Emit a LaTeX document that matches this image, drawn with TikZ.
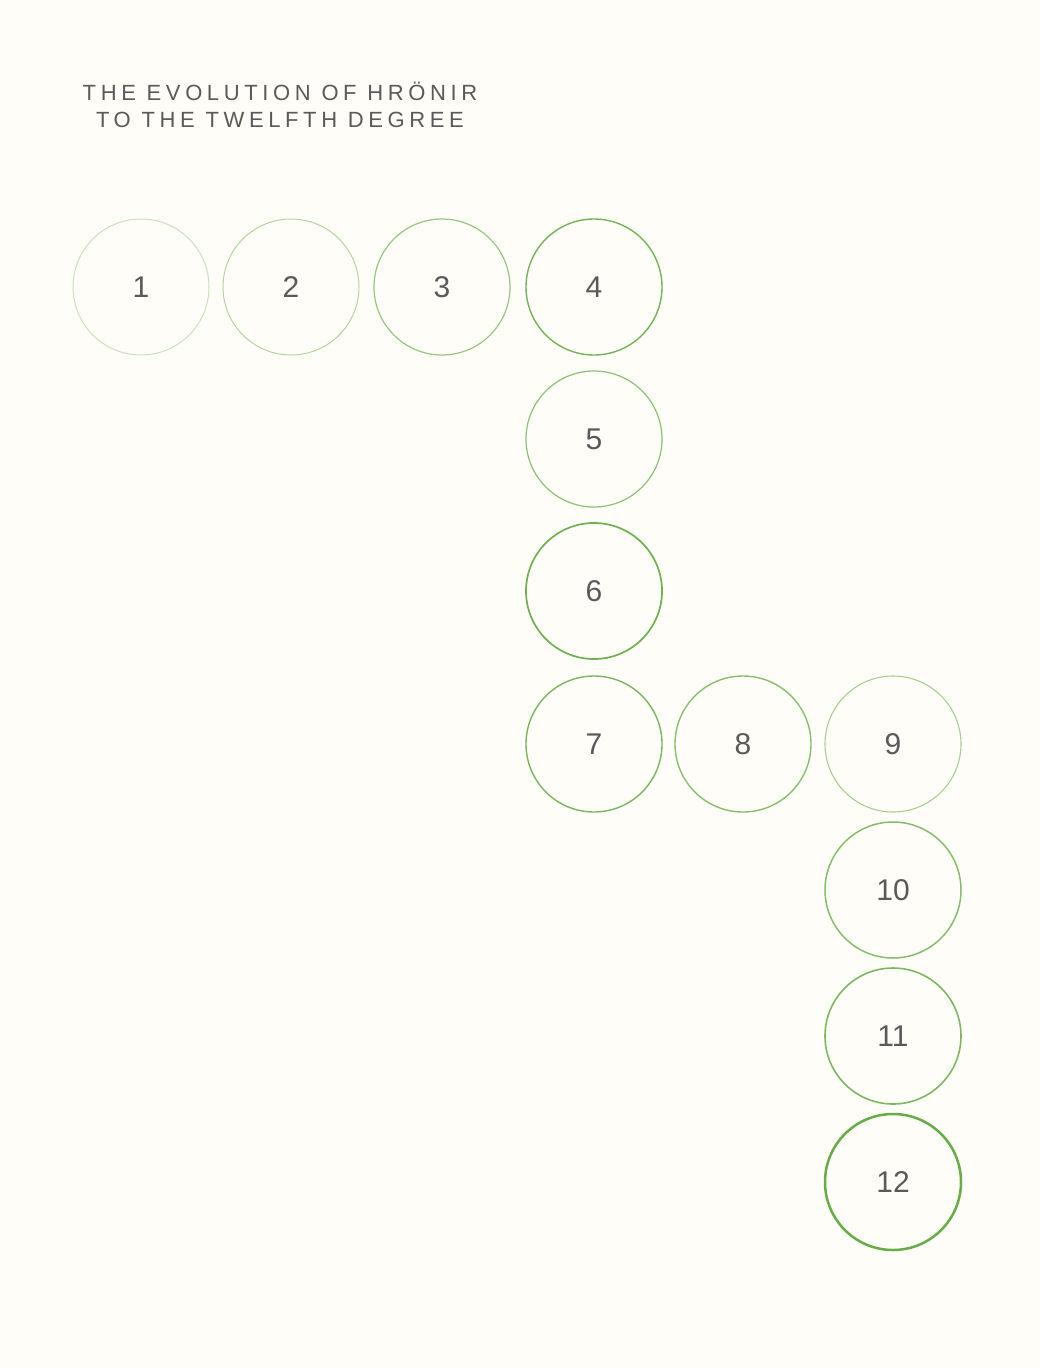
\documentclass[tikz,border=0pt]{standalone}
\usepackage{fontspec}
\setmainfont{Liberation Sans}
\newfontfamily\titlefont[LetterSpace=21]{Liberation Sans}
\definecolor{bgc}{HTML}{FFFDF8}
\definecolor{txt}{HTML}{5A5A5A}
\definecolor{grn}{HTML}{66AD48}
\begin{document}
\begin{tikzpicture}[x=1pt,y=-1pt,
  hron/.style={circle, minimum size=136pt, inner sep=0pt, draw=grn, text=txt,
    font=\fontsize{30}{32}\selectfont},
  ttl/.style={text=txt, font=\titlefont\fontsize{22}{27}\selectfont, align=center}]
\fill[bgc] (0,0) rectangle (1040,1368);
\useasboundingbox (0,0) rectangle (1040,1368);
\node[ttl] (title) at (280,105) {THE EVOLUTION OF HRÖNIR\\TO THE TWELFTH DEGREE};
\node[hron, draw opacity=0.35, line width=1pt]   (n1)  at (141,287) {1};
\node[hron, draw opacity=0.5, line width=1pt]    (n2)  at (291,287) {2};
\node[hron, draw opacity=0.68, line width=1.2pt] (n3)  at (442,287) {3};
\node[hron, draw opacity=0.92, line width=1.4pt] (n4)  at (594,287) {4};
\node[hron, draw opacity=0.75, line width=1.2pt] (n5)  at (594,439) {5};
\node[hron, draw opacity=0.95, line width=1.7pt] (n6)  at (594,591) {6};
\node[hron, draw opacity=0.88, line width=1.4pt] (n7)  at (594,744) {7};
\node[hron, draw opacity=0.78, line width=1.4pt] (n8)  at (743,744) {8};
\node[hron, draw opacity=0.58, line width=1.1pt] (n9)  at (893,744) {9};
\node[hron, draw opacity=0.8, line width=1.5pt]  (n10) at (893,890) {10};
\node[hron, draw opacity=0.85, line width=1.6pt] (n11) at (893,1036) {11};
\node[hron, draw opacity=1, line width=2.5pt]    (n12) at (893,1182) {12};
\end{tikzpicture}
\end{document}
